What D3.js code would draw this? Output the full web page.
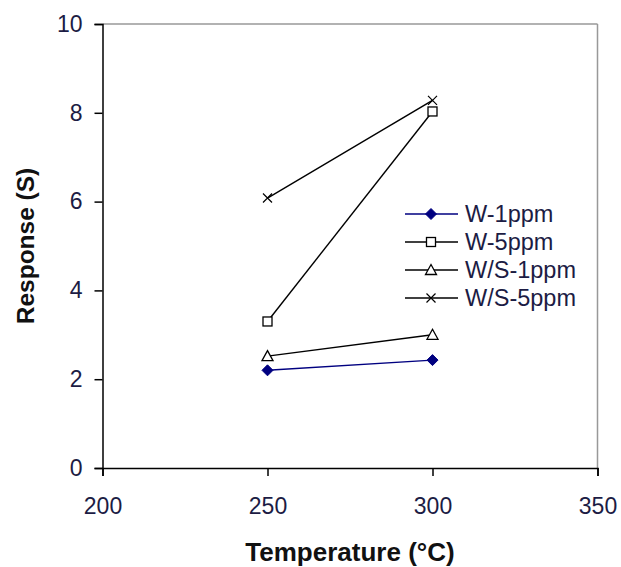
<!DOCTYPE html>
<html><head><meta charset="utf-8">
<script src="https://cdn.jsdelivr.net/npm/d3@7"></script>
<style>body{margin:0;background:#fff}</style>
</head><body>
<svg id="c" width="621" height="567"></svg>
<script>
const temperatures = [250, 300];
const w1ppm = [2.2, 2.43];
const w5ppm = [3.3, 8.03];
const ws1ppm = [2.52, 3.0];
const ws5ppm = [6.08, 8.28];
const seriesNames = ["W-1ppm", "W-5ppm", "W/S-1ppm", "W/S-5ppm"];
const xTicks = [200, 250, 300, 350];
const yTicks = [0, 2, 4, 6, 8, 10];

const series = [
  {name: seriesNames[0], values: w1ppm, color: "#000080", marker: "diamond"},
  {name: seriesNames[1], values: w5ppm, color: "#000", marker: "square"},
  {name: seriesNames[2], values: ws1ppm, color: "#000", marker: "triangle"},
  {name: seriesNames[3], values: ws5ppm, color: "#000", marker: "cross"}
];

const svg = d3.select("#c");
const x = d3.scaleLinear().domain([200, 350]).range([102.5, 597.5]);
const y = d3.scaleLinear().domain([0, 10]).range([468, 24]);
const font = "Arial, 'Liberation Sans', sans-serif";
const labelColor = "#1c1c44";

// plot border (gray top/right)
svg.append("line").attr("x1", x(200)).attr("x2", x(350)).attr("y1", y(10)).attr("y2", y(10))
  .attr("stroke", "#999").attr("stroke-width", 1.5);
svg.append("line").attr("x1", x(350)).attr("x2", x(350)).attr("y1", y(10)).attr("y2", y(0))
  .attr("stroke", "#999").attr("stroke-width", 1.5);

const xAxis = svg.append("g").attr("transform", `translate(0,${y(0)})`)
  .call(d3.axisBottom(x).tickValues(xTicks).tickSize(8).tickPadding(22).tickFormat(d3.format("d")));
const yAxis = svg.append("g").attr("transform", `translate(${x(200)},0)`)
  .call(d3.axisLeft(y).tickValues(yTicks).tickSize(8).tickPadding(12).tickFormat(d3.format("d")));
[xAxis, yAxis].forEach(a => {
  a.select(".domain").attr("stroke", "#000").attr("stroke-width", 1.5);
  a.selectAll(".tick line").attr("stroke", "#000").attr("stroke-width", 1.5);
  a.selectAll(".tick text").attr("fill", labelColor).style("font-family", font).style("font-size", "23px");
});

svg.append("text").attr("x", 350).attr("y", 561).attr("text-anchor", "middle")
  .style("font-family", font).style("font-size", "26px").style("font-weight", "bold")
  .attr("fill", "#111").text("Temperature (°C)");
svg.append("text").attr("transform", "translate(34,246) rotate(-90)").attr("text-anchor", "middle")
  .style("font-family", font).style("font-size", "24.5px").style("font-weight", "bold")
  .attr("fill", "#111").text("Response (S)");

function drawMarker(g, type, color) {
  if (type === "diamond") {
    g.append("path").attr("d", "M0,-5.5L5.5,0L0,5.5L-5.5,0Z").attr("fill", color).attr("stroke", color);
  } else if (type === "square") {
    g.append("rect").attr("x", -4.5).attr("y", -4.5).attr("width", 9).attr("height", 9)
      .attr("fill", "#fff").attr("stroke", color).attr("stroke-width", 1.3);
  } else if (type === "triangle") {
    g.append("path").attr("d", "M0,-5.5L5.5,4.5L-5.5,4.5Z").attr("fill", "#fff").attr("stroke", color).attr("stroke-width", 1.3);
  } else {
    g.append("path").attr("d", "M-4.5,-4.5L4.5,4.5M-4.5,4.5L4.5,-4.5").attr("fill", "none").attr("stroke", color).attr("stroke-width", 1.2);
  }
}

const line = d3.line().x(d => x(d[0])).y(d => y(d[1]));
series.forEach(s => {
  const pts = temperatures.map((t, i) => [t, s.values[i]]);
  svg.append("path").attr("d", line(pts)).attr("fill", "none").attr("stroke", s.color).attr("stroke-width", 1.4);
  pts.forEach(p => drawMarker(svg.append("g").attr("transform", `translate(${x(p[0])},${y(p[1])})`), s.marker, s.color));
});

// legend
const leg = svg.append("g");
series.forEach((s, i) => {
  const yy = 214 + i * 28;
  leg.append("line").attr("x1", 405).attr("x2", 458).attr("y1", yy).attr("y2", yy)
    .attr("stroke", s.color).attr("stroke-width", 1.4);
  drawMarker(leg.append("g").attr("transform", `translate(431,${yy})`), s.marker, s.color);
  leg.append("text").attr("x", 465).attr("y", yy + 8).attr("fill", labelColor)
    .style("font-family", font).style("font-size", "23.5px").text(s.name);
});
</script>
</body></html>
